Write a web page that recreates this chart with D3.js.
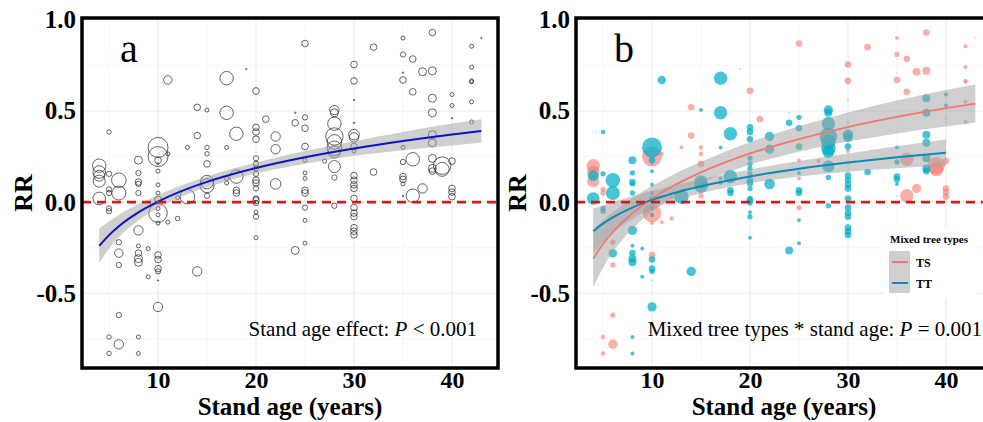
<!DOCTYPE html>
<html>
<head>
<meta charset="utf-8">
<script src="https://d3js.org/d3.v7.min.js"></script>
<style>
  body { margin:0; background:#fff; }
  svg text { font-family: "Liberation Serif", "Times New Roman", serif; }
</style>
</head>
<body>
<div id="chart"></div>
<script>
const tsPoints = [
  [4,0.20,45],[4,0.165,40],[4,0.115,36],
  [5,0.07,7],[5,0.05,7],[5,-0.74,5],[5,-0.83,5],
  [6,-0.22,7],[6,-0.345,7],[6,-0.62,7],[6,-0.78,22],
  [10,0.25,100],[10,-0.06,86],[10,-0.115,4],[10,-0.29,11],[10,-0.43,0.5],
  [11,0.265,4],[11,-0.11,4],
  [12,-0.09,5],[12,0.025,4],
  [13,0.30,4],
  [14,0.52,11],[14,0.365,11],
  [15,0.30,5],[15,0.265,5],[15,0.21,11],[15,0.035,7],
  [20,0.61,11],
  [21,0.455,11],
  [25,0.87,11],[25,0.23,4],[25,0.13,4],[25,-0.03,7],
  [27,0.225,4],
  [30,0.755,11],[30,0.665,11],[30,0.28,4],
  [32,0.85,11],
  [35,0.90,4],[35,0.81,7],[35,0.71,0.5],[35,0.67,11],
  [36,0.785,11],[36,0.605,11],[36,0.235,45],[36,0.035,45],
  [37,0.715,16],[37,0.075,22],
  [38,0.93,11],[38,0.72,16],
  [39,0.20,76],[39,0.18,49],
  [40,0.225,11],[40,0.075,11],[40,0.055,11],[40,0.03,11],
  [42,0.855,4],[42,0.74,4],[42,0.665,4],[42,0.66,4],[42,0.55,4],[42,0.44,4],
  [43,0.90,0.5]
];
const ttPoints = [
  [4,0.145,30],[4,0.02,40],
  [5,0.385,5],[5,0.155,7],[5,-0.035,7],[5,-0.05,7],
  [6,0.12,53],[6,0.05,49],[6,-0.28,18],
  [8,0.23,16],[8,0.16,7],[8,0.11,11],[8,0.10,7],[8,0.05,7],[8,-0.155,22],[8,-0.24,4],
  [8,-0.28,11],[8,-0.31,16],[8,-0.33,16],[8,-0.74,4],[8,-0.83,4],
  [9,-0.255,4],[9,-0.41,4],
  [10,0.30,100],[10,0.23,11],[10,0.21,1],[10,0.17,4],[10,0.095,4],[10,0.05,4],[10,0.015,11],
  [10,-0.035,4],[10,-0.07,4],[10,-0.315,11],[10,-0.365,11],[10,-0.38,7],[10,-0.575,22],
  [11,0.67,18],
  [13,0.03,53],
  [14,-0.38,22],
  [15,0.505,4],[15,0.11,45],[15,0.09,49],
  [17,0.68,45],[17,0.49,45],[17,0.30,4],[17,0.13,4],[17,0.105,4],
  [18,0.375,45],[18,0.14,45],[18,0.065,11],[18,0.05,11],
  [19,0.73,0.5],
  [20,0.41,11],[20,0.385,11],[20,0.345,11],[20,0.24,7],[20,0.21,7],[20,0.185,7],[20,0.155,7],
  [20,0.12,11],[20,0.105,11],[20,0.075,7],[20,0.02,7],[20,0.01,11],[20,-0.005,7],[20,-0.055,4],
  [20,-0.08,7],[20,-0.195,4],
  [22,0.36,22],[22,0.29,22],[22,0.10,28],
  [24,0.49,0.5],[24,0.435,11],[24,-0.265,16],
  [25,0.465,7],[25,0.405,11],[25,0.305,11],[25,0.16,4],[25,0.065,11],[25,0.05,11],[25,-0.10,4],[25,-0.225,4],
  [28,0.505,22],[28,0.49,16],[28,0.43,45],[28,0.36,76],[28,0.33,53],[28,0.295,53],[28,0.275,36],
  [28,0.195,36],[28,0.135,7],[28,-0.02,7],
  [30,0.56,0.5],[30,0.435,0.5],[30,0.37,28],[30,0.355,22],[30,0.305,11],[30,0.145,11],[30,0.12,11],
  [30,0.095,11],[30,0.075,11],[30,0.02,11],[30,-0.03,11],[30,-0.06,11],[30,-0.08,11],[30,-0.14,11],
  [30,-0.16,11],[30,-0.18,11],
  [32,0.165,11],
  [35,0.30,4],[35,0.22,7],[35,0.14,11],[35,0.125,11],[35,0.10,4],[35,0.033,0.5],
  [38,0.57,16],[38,0.49,16],[38,0.37,16],[38,0.325,16],[38,0.24,16],[38,0.185,16],[38,0.17,11],
  [40,0.59,4],[40,0.53,4],[40,0.46,0.5]
];

// fitted curves and 95% bands
const fitAge   = [4, 5, 6, 8, 10, 12, 15, 20, 25, 30, 35, 40, 43];
const fitAll   = [-0.240, -0.181, -0.132, -0.056, 0.003, 0.052, 0.111, 0.187, 0.246, 0.294, 0.335, 0.371, 0.390];
const fitAllLo = [-0.335, -0.256, -0.194, -0.101, -0.032, 0.020, 0.081, 0.157, 0.211, 0.254, 0.285, 0.311, 0.325];
const fitAllHi = [-0.145, -0.106, -0.070, -0.011, 0.038, 0.084, 0.141, 0.217, 0.281, 0.334, 0.385, 0.431, 0.455];
const fitTS    = [-0.310, -0.230, -0.164, -0.062, 0.018, 0.084, 0.163, 0.267, 0.346, 0.412, 0.467, 0.515, 0.540];
const fitTSLo  = [-0.465, -0.360, -0.274, -0.147, -0.052, 0.022, 0.105, 0.205, 0.276, 0.332, 0.377, 0.415, 0.435];
const fitTSHi  = [-0.155, -0.100, -0.054, 0.023, 0.088, 0.146, 0.221, 0.329, 0.416, 0.492, 0.557, 0.615, 0.645];
const fitAgeTT = [4, 5, 6, 8, 10, 12, 15, 20, 25, 30, 35, 40];
const fitTT    = [-0.160, -0.118, -0.084, -0.030, 0.012, 0.046, 0.087, 0.141, 0.183, 0.217, 0.246, 0.271];
const fitTTLo  = [-0.285, -0.218, -0.169, -0.092, -0.038, 0.003, 0.049, 0.103, 0.141, 0.167, 0.186, 0.199];
const fitTTHi  = [-0.035, -0.018, 0.001, 0.032, 0.062, 0.089, 0.125, 0.179, 0.225, 0.267, 0.306, 0.343];

const xTicks = [10, 20, 30, 40];
const xMinor = [5, 15, 25, 35];
const yTicks = [-0.5, 0, 0.5, 1.0];
const yMinor = [-0.75, -0.25, 0.25, 0.75];
const typeNames = ["TS", "TT"];

const W = 983, H = 422;
const plotTop = 18, plotBottom = 368, panelW = 416;
const colTS = "#F8766D", colTT = "#00AFC8", lineTT = "#0A8CB6";

const svg = d3.select("#chart").append("svg")
  .attr("width", W).attr("height", H);

const y = d3.scaleLinear().domain([-0.91, 1.01]).range([plotBottom, plotTop]);
const r = d3.scaleSqrt().domain([0, 100]).range([0, 10]);

function band(ages, lo, hi, x) {
  return d3.area()
    .x((d, i) => x(ages[i]))
    .y0((d, i) => y(lo[i]))
    .y1((d, i) => y(hi[i]))
    .curve(d3.curveMonotoneX)(ages);
}
function curve(ages, vals, x) {
  return d3.line()
    .x((d, i) => x(ages[i]))
    .y((d, i) => y(vals[i]))
    .curve(d3.curveMonotoneX)(ages);
}

function drawPanel(left, id) {
  const x = d3.scaleLinear().domain([2.24, 44.7]).range([left, left + panelW]);
  const g = svg.append("g");

  svg.append("clipPath").attr("id", "clip" + id)
    .append("rect").attr("x", left).attr("y", plotTop).attr("width", panelW).attr("height", plotBottom - plotTop);
  const plot = g.append("g").attr("clip-path", "url(#clip" + id + ")");

  // grid
  plot.selectAll(".gx").data(xMinor).join("line")
    .attr("x1", d => x(d)).attr("x2", d => x(d)).attr("y1", plotTop).attr("y2", plotBottom)
    .attr("stroke", "#f2f2f2").attr("stroke-width", 0.6);
  plot.selectAll(".gy").data(yMinor).join("line")
    .attr("y1", d => y(d)).attr("y2", d => y(d)).attr("x1", left).attr("x2", left + panelW)
    .attr("stroke", "#f2f2f2").attr("stroke-width", 0.6);
  plot.selectAll(".Gx").data(xTicks).join("line")
    .attr("x1", d => x(d)).attr("x2", d => x(d)).attr("y1", plotTop).attr("y2", plotBottom)
    .attr("stroke", "#ebebeb").attr("stroke-width", 1.1);
  plot.selectAll(".Gy").data(yTicks).join("line")
    .attr("y1", d => y(d)).attr("y2", d => y(d)).attr("x1", left).attr("x2", left + panelW)
    .attr("stroke", "#ebebeb").attr("stroke-width", 1.1);

  const all = tsPoints.map(d => ({age: d[0], rr: d[1], w: d[2], type: "TS"}))
    .concat(ttPoints.map(d => ({age: d[0], rr: d[1], w: d[2], type: "TT"})));

  if (id === "a") {
    plot.selectAll("circle").data(all).join("circle")
      .attr("cx", d => x(d.age)).attr("cy", d => y(d.rr)).attr("r", d => r(d.w))
      .attr("fill", "none").attr("stroke", "#222").attr("stroke-width", 0.7);
    plot.append("path").attr("d", band(fitAge, fitAllLo, fitAllHi, x))
      .attr("fill", "#a0a0a0").attr("opacity", 0.5);
    plot.append("path").attr("d", curve(fitAge, fitAll, x))
      .attr("fill", "none").attr("stroke", "#0a14c8").attr("stroke-width", 2);
  } else {
    plot.selectAll("circle").data(all).join("circle")
      .attr("cx", d => x(d.age)).attr("cy", d => y(d.rr)).attr("r", d => r(d.w))
      .attr("fill", d => d.type === "TS" ? colTS : colTT)
      .attr("fill-opacity", d => d.type === "TS" ? 0.6 : 0.72);
    plot.append("path").attr("d", band(fitAge, fitTSLo, fitTSHi, x))
      .attr("fill", "#a0a0a0").attr("opacity", 0.5);
    plot.append("path").attr("d", band(fitAgeTT, fitTTLo, fitTTHi, x))
      .attr("fill", "#a0a0a0").attr("opacity", 0.5);
    plot.append("path").attr("d", curve(fitAge, fitTS, x))
      .attr("fill", "none").attr("stroke", colTS).attr("stroke-width", 1.8);
    plot.append("path").attr("d", curve(fitAgeTT, fitTT, x))
      .attr("fill", "none").attr("stroke", lineTT).attr("stroke-width", 2);
  }

  plot.append("line")
    .attr("x1", left).attr("x2", left + panelW).attr("y1", y(0)).attr("y2", y(0))
    .attr("stroke", "#d01c1c").attr("stroke-width", 2.6).attr("stroke-dasharray", "9,6");

  // axes
  const ya = g.append("g").attr("transform", "translate(" + left + ",0)")
    .call(d3.axisLeft(y).tickValues(yTicks).tickFormat(d => d.toFixed(1)).tickSize(0).tickPadding(6));
  const xa = g.append("g").attr("transform", "translate(0," + plotBottom + ")")
    .call(d3.axisBottom(x).tickValues(xTicks).tickSize(0).tickPadding(3));
  [ya, xa].forEach(a => {
    a.select(".domain").remove();
    a.selectAll("text").attr("font-size", 25).attr("font-weight", "bold")
      .attr("fill", "#000").attr("font-family", "Liberation Serif, serif");
  });
  xa.selectAll("text").attr("font-size", 24);

  g.append("text").attr("x", left + 208).attr("y", 415)
    .attr("text-anchor", "middle").attr("font-size", 25).attr("font-weight", "bold")
    .text("Stand age (years)");
  g.append("text").attr("transform", "translate(" + (left - 50) + ",193) rotate(-90)")
    .attr("text-anchor", "middle").attr("font-size", 26).attr("font-weight", "bold")
    .text("RR");

  g.append("text").attr("x", left + 38).attr("y", 62).attr("font-size", 40).text(id);

  const note = g.append("text").attr("text-anchor", "end").attr("y", 336).attr("font-size", 21);
  if (id === "a") {
    note.attr("x", left + 395);
    note.append("tspan").text("Stand age effect: ");
    note.append("tspan").attr("font-style", "italic").text("P");
    note.append("tspan").text(" < 0.001");
  } else {
    note.attr("x", left + 406);
    note.append("tspan").text("Mixed tree types * stand age: ");
    note.append("tspan").attr("font-style", "italic").text("P");
    note.append("tspan").text(" = 0.001");
    // legend
    const lg = g.append("g");
    lg.append("rect").attr("x", 884).attr("y", 228).attr("width", 92).attr("height", 70).attr("fill", "#fff");
    lg.append("text").attr("x", 890).attr("y", 243).attr("font-size", 11).attr("font-weight", "bold")
      .text("Mixed tree types");
    typeNames.forEach((t, i) => {
      const ky = 251 + i * 21;
      lg.append("rect").attr("x", 889).attr("y", ky).attr("width", 21).attr("height", 21)
        .attr("fill", "#a0a0a0").attr("opacity", 0.5);
      lg.append("line").attr("x1", 892).attr("x2", 908).attr("y1", ky + 11).attr("y2", ky + 11)
        .attr("stroke", t === "TS" ? colTS : lineTT).attr("stroke-width", 2);
      lg.append("text").attr("x", 916).attr("y", ky + 16).attr("font-size", 12).attr("font-weight", "bold")
        .text(t);
    });
  }

  g.append("rect").attr("x", left).attr("y", plotTop).attr("width", panelW).attr("height", plotBottom - plotTop)
    .attr("fill", "none").attr("stroke", "#000").attr("stroke-width", 3.5);
}

drawPanel(82, "a");
drawPanel(576, "b");
</script>
</body>
</html>
